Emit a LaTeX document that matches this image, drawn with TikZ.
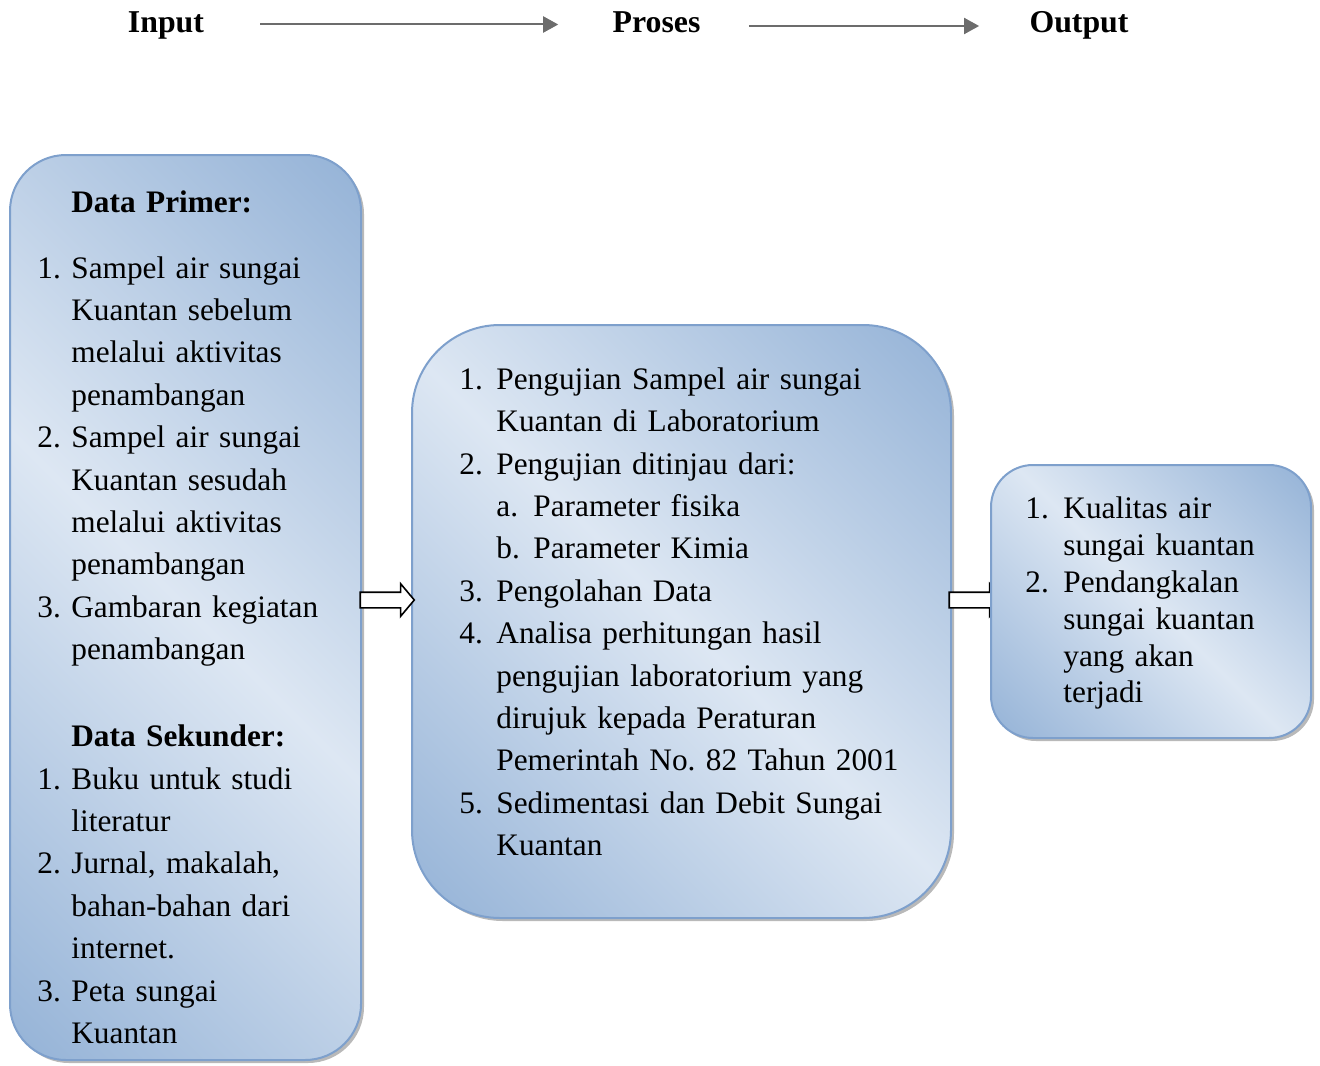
\documentclass[tikz,border=0pt]{standalone}
\usepackage{fontspec}
\setmainfont{Liberation Serif}
\usetikzlibrary{arrows.meta,shadows,shapes.arrows}

\definecolor{boxdark}{RGB}{149,179,215}
\definecolor{boxlight}{RGB}{221,231,243}
\definecolor{boxline}{RGB}{126,160,204}
\definecolor{flowgray}{RGB}{108,108,108}
\pgfdeclarehorizontalshading{boxshade}{100bp}{color(0bp)=(boxdark); color(15bp)=(boxdark); color(50bp)=(boxlight); color(85bp)=(boxdark); color(100bp)=(boxdark)}

\newlength{\numw}
\newcommand{\numitem}[2]{\noindent\hangindent=\numw\hangafter=1\makebox[\numw][l]{\strut#1}{\let\\\newline#2}\par}
\newcommand{\letitem}[2]{\noindent\hangindent=2\numw\hangafter=1\hskip\numw\makebox[\numw][l]{\strut#1}#2\par}

\begin{document}
\begin{tikzpicture}[x=0.5pt,y=-0.5pt,
    headtxt/.style={inner sep=0pt,font=\fontsize{15.9}{19}\selectfont\bfseries,text height=11pt,text depth=3.5pt},
    flowarrow/.style={draw=flowgray,line width=1pt,-{Triangle[length=7.5pt,width=8pt]}},
    flowbox/.style={shade,shading=boxshade,shading angle=45,draw=boxline,line width=1pt,rounded corners=#1,
      drop shadow={shadow xshift=1.5pt,shadow yshift=-1.5pt,fill=black!55},inner sep=0pt},
    listtxt/.style={anchor=north west,inner sep=0pt,align=left,font=\fontsize{15.65}{21.2}\selectfont\frenchspacing},
    blockarrow/.style={single arrow,draw=black,fill=white,line width=0.8pt,inner xsep=0pt,inner ysep=3.5pt,
      single arrow head extend=4.25pt,single arrow tip angle=100,minimum height=27pt}]
  \useasboundingbox (0,0) rectangle (1320,1065);

  \node[headtxt] (in) at (166,25.5) {Input};
  \node[headtxt] (proc) at (656.5,25.5) {Proses};
  \node[headtxt] (out) at (1079,25.5) {Output};
  \draw[flowarrow] ([xshift=28pt,yshift=0.5pt]in.east) -- ([xshift=-27pt,yshift=0.5pt]proc.west);
  \draw[flowarrow] ([xshift=24pt,yshift=-0.25pt]proc.east) -- ([xshift=-25pt,yshift=-0.25pt]out.west);

  \node[flowbox=28pt,minimum width=175.5pt,minimum height=452.5pt] (inbox) at (185.5,607.5) {};
  \node[listtxt,text width=150pt] (intxt) at (37,182) {%
    \setlength{\numw}{17pt}%
    \noindent\strut\hskip\numw\textbf{Data Primer:}\par\vspace{11.8pt}%
    \numitem{1.}{Sampel air sungai\\Kuantan sebelum\\melalui aktivitas\\penambangan}%
    \numitem{2.}{Sampel air sungai\\Kuantan sesudah\\melalui aktivitas\\penambangan}%
    \numitem{3.}{Gambaran kegiatan\\penambangan}%
    \vspace{22.3pt}%
    \noindent\strut\hskip\numw\textbf{Data Sekunder:}\par
    \numitem{1.}{Buku untuk studi\\literatur}%
    \numitem{2.}{Jurnal, makalah,\\bahan-bahan dari\\internet.}%
    \numitem{3.}{Peta sungai\\Kuantan}};

  \node[flowbox=44pt,minimum width=269.5pt,minimum height=296.5pt] (procbox) at (681.5,621.5) {};
  \node[listtxt,text width=235pt] (proctxt) at (459,359.3) {%
    \setlength{\numw}{18.5pt}%
    \numitem{1.}{Pengujian Sampel air sungai\\Kuantan di Laboratorium}%
    \numitem{2.}{Pengujian ditinjau dari:}%
    \letitem{a.}{Parameter fisika}%
    \letitem{b.}{Parameter Kimia}%
    \numitem{3.}{Pengolahan Data}%
    \numitem{4.}{Analisa perhitungan hasil\\pengujian laboratorium yang\\dirujuk kepada Peraturan\\Pemerintah No. 82 Tahun 2001}%
    \numitem{5.}{Sedimentasi dan Debit Sungai\\Kuantan}};

  \node[blockarrow] (arrin) at (384,600) {};
  \node[blockarrow] (arrout) at (973,600) {};

  \node[flowbox=21pt,minimum width=160pt,minimum height=136.5pt] (outbox) at (1151,601.5) {};
  \node[listtxt,text width=135pt,font=\fontsize{15.65}{18.4}\selectfont] (outtxt) at (1025,492.7) {%
    \setlength{\numw}{19pt}%
    \numitem{1.}{Kualitas air\\sungai kuantan}%
    \numitem{2.}{Pendangkalan\\sungai kuantan\\yang akan\\terjadi}};
\end{tikzpicture}
\end{document}
